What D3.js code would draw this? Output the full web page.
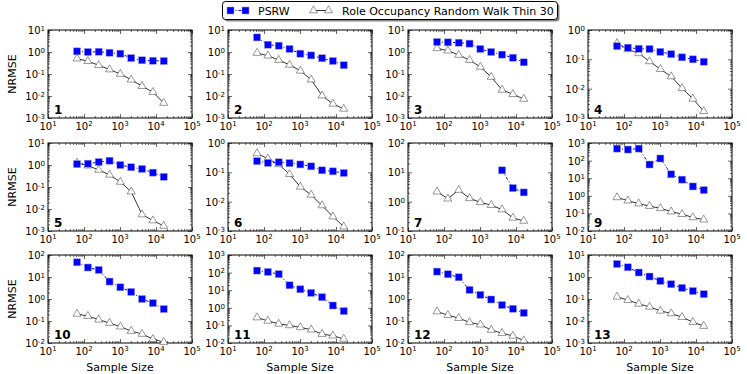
<!DOCTYPE html>
<html>
<head>
<meta charset="utf-8">
<script src="https://cdn.jsdelivr.net/npm/d3@7"></script>
<style>
  body { margin: 0; background: #fff; }
  svg { font-family: "DejaVu Sans", sans-serif; }
</style>
</head>
<body>
<svg width="747" height="374"></svg>
<script>
// values
let sampleSizes = [64, 128, 256, 512, 1024, 2048, 4096, 8192, 16384];
let panelLabels = ["1", "2", "3", "4", "5", "6", "7", "9", "10", "11", "12", "13"];
// y range of each panel as [min exponent, max exponent]
let yDecades = [[-3, 1], [-3, 1], [-3, 1], [-3, 0], [-3, 1], [-3, 0], [-1, 2], [-2, 3], [-2, 2], [-2, 3], [-2, 2], [-3, 1]];

let psrw = [
    [1.07, 1.0, 1.03, 0.93, 0.84, 0.53, 0.42, 0.40, 0.39],
    [4.6, 2.15, 1.94, 1.37, 0.84, 0.70, 0.52, 0.39, 0.25],
    [2.85, 2.75, 2.65, 2.4, 1.37, 1.0, 0.76, 0.55, 0.34],
    [0.28, 0.25, 0.23, 0.225, 0.18, 0.15, 0.117, 0.10, 0.083],
    [1.1, 1.15, 1.36, 1.57, 1.0, 0.79, 0.66, 0.45, 0.29],
    [0.24, 0.21, 0.22, 0.206, 0.186, 0.16, 0.117, 0.108, 0.095],
    [null, null, null, null, null, null, 11.7, 2.9, 2.07],
    [480, 424, 480, 60, 132, 16.6, 8.3, 3.4, 2.1],
    [46.5, 27, 21, 6.2, 3.4, 2.1, 1.0, 0.65, 0.35],
    [130, 109, 82, 19, 11.3, 7.0, 4.0, 1.35, 0.65],
    [17.6, 13.3, 9.7, 2.6, 1.55, 0.95, 0.53, 0.36, 0.235],
    [3.9, 2.76, 1.6, 1.05, 0.66, 0.47, 0.32, 0.23, 0.166]
];

let roleOcc = [
    [0.50, 0.38, 0.25, 0.16, 0.10, 0.055, 0.028, 0.015, 0.0048],
    [0.90, 0.68, 0.43, 0.26, 0.14, 0.055, 0.0104, 0.0044, 0.0026],
    [1.47, 1.15, 0.73, 0.43, 0.21, 0.073, 0.019, 0.012, 0.0073],
    [0.35, 0.22, 0.16, 0.085, 0.046, 0.026, 0.0103, 0.0045, 0.0017],
    [1.27, 0.93, 0.6, 0.355, 0.17, 0.061, 0.0056, 0.003, 0.0017],
    [0.44, 0.29, 0.186, 0.086, 0.032, 0.017, 0.0074, 0.0031, 0.0014],
    [2.2, 1.26, 2.5, 1.3, 0.95, 0.76, 0.54, 0.28, 0.22],
    [0.81, 0.53, 0.36, 0.26, 0.195, 0.127, 0.09, 0.059, 0.044],
    [0.21, 0.167, 0.114, 0.081, 0.055, 0.035, 0.0257, 0.015, 0.011],
    [0.28, 0.18, 0.123, 0.10, 0.077, 0.057, 0.032, 0.026, 0.017],
    [0.27, 0.185, 0.135, 0.087, 0.068, 0.039, 0.028, 0.021, 0.013],
    [0.126, 0.089, 0.06, 0.044, 0.029, 0.022, 0.015, 0.0089, 0.0059]
];

let xDecades = [1, 5];

let svg = d3.select("svg");

let colLeft = [48, 228, 408, 588],
    rowTop = [30, 143, 255],
    pw = 144,
    ph = 88;

let blue = "#0000ff";

// "10" with a superscript exponent
function powLabel(sel, e) {
    sel.text("10");
    sel.append("tspan")
        .attr("dy", "-0.45em")
        .style("font-size", "7px")
        .text(e);
}

function minorValues(lo, hi) {
    let out = [];
    for (let e = lo; e < hi; e++) {
        for (let m = 2; m <= 9; m++) out.push(m * Math.pow(10, e));
    }
    return out;
}

function majorValues(lo, hi) {
    return d3.range(lo, hi + 1).map(e => Math.pow(10, e));
}

panelLabels.forEach((label, i) => {
    let col = i % 4, row = Math.floor(i / 4);
    let g = svg.append("g")
        .attr("transform", "translate(" + colLeft[col] + "," + rowTop[row] + ")");

    let x = d3.scaleLog()
        .domain([Math.pow(10, xDecades[0]), Math.pow(10, xDecades[1])])
        .range([0, pw]);
    let y = d3.scaleLog()
        .domain([Math.pow(10, yDecades[i][0]), Math.pow(10, yDecades[i][1])])
        .range([ph, 0]);

    // ticks on all four sides, pointing inwards
    let xMaj = majorValues(xDecades[0], xDecades[1]),
        xMin = minorValues(xDecades[0], xDecades[1]),
        yMaj = majorValues(yDecades[i][0], yDecades[i][1]),
        yMin = minorValues(yDecades[i][0], yDecades[i][1]);

    let axes = [
        [d3.axisBottom(x).tickValues(xMaj).tickSize(-4), "translate(0," + ph + ")"],
        [d3.axisBottom(x).tickValues(xMin).tickSize(-2), "translate(0," + ph + ")"],
        [d3.axisTop(x).tickValues(xMaj).tickSize(-4), null],
        [d3.axisTop(x).tickValues(xMin).tickSize(-2), null],
        [d3.axisLeft(y).tickValues(yMaj).tickSize(-4), null],
        [d3.axisLeft(y).tickValues(yMin).tickSize(-2), null],
        [d3.axisRight(y).tickValues(yMaj).tickSize(-4), "translate(" + pw + ",0)"],
        [d3.axisRight(y).tickValues(yMin).tickSize(-2), "translate(" + pw + ",0)"]
    ];

    axes.forEach(a => {
        let ax = g.append("g").call(a[0].tickFormat(""));
        if (a[1]) ax.attr("transform", a[1]);
        ax.select(".domain").remove();
        ax.selectAll(".tick line").attr("stroke", "#000").attr("stroke-width", 0.6);
        ax.selectAll("text").remove();
    });

    // tick labels
    g.selectAll(".xlab")
        .data(d3.range(xDecades[0], xDecades[1] + 1))
        .enter().append("text")
        .attr("x", d => x(Math.pow(10, d)))
        .attr("y", ph + 11.5)
        .attr("text-anchor", "middle")
        .style("font-size", "10px")
        .each(function (d) { powLabel(d3.select(this), d); });

    g.selectAll(".ylab")
        .data(d3.range(yDecades[i][0], yDecades[i][1] + 1))
        .enter().append("text")
        .attr("x", -3)
        .attr("y", d => y(Math.pow(10, d)) + 4)
        .attr("text-anchor", "end")
        .style("font-size", "10px")
        .each(function (d) { powLabel(d3.select(this), d); });

    // frame
    g.append("rect")
        .attr("width", pw)
        .attr("height", ph)
        .attr("fill", "none")
        .attr("stroke", "#000")
        .attr("stroke-width", 1);

    let plot = g.append("g");

    // role occupancy line + triangles
    let roleRows = sampleSizes.map((s, k) => ({ s: s, v: roleOcc[i][k] }));
    plot.append("path")
        .datum(roleRows)
        .attr("fill", "none")
        .attr("stroke", "#000")
        .attr("stroke-width", 0.8)
        .attr("d", d3.line().x(d => x(d.s)).y(d => y(d.v)));

    plot.selectAll(".tri")
        .data(roleRows)
        .enter().append("path")
        .attr("transform", d => "translate(" + x(d.s) + "," + y(d.v) + ")")
        .attr("d", d3.symbol(d3.symbolTriangle, 28))
        .attr("fill", "#fff")
        .attr("stroke", "#333")
        .attr("stroke-width", 0.5);

    // PSRW dash-dot line + squares
    let psrwRows = sampleSizes.map((s, k) => ({ s: s, v: psrw[i][k] })).filter(d => d.v != null);
    plot.append("path")
        .datum(psrwRows)
        .attr("fill", "none")
        .attr("stroke", blue)
        .attr("stroke-width", 1)
        .attr("stroke-dasharray", "3,2,1,2")
        .attr("d", d3.line().x(d => x(d.s)).y(d => y(d.v)));

    plot.selectAll(".sq")
        .data(psrwRows)
        .enter().append("rect")
        .attr("x", d => x(d.s) - 3.5)
        .attr("y", d => y(d.v) - 3.5)
        .attr("width", 7)
        .attr("height", 7)
        .attr("fill", blue)
        .attr("stroke", "#9a9ad8")
        .attr("stroke-width", 0.5);

    // panel number
    g.append("text")
        .attr("x", 6)
        .attr("y", ph - 4)
        .style("font-size", "12px")
        .style("font-weight", "bold")
        .text(label);

    if (col === 0) {
        g.append("text")
            .attr("transform", "translate(-32," + (ph / 2) + ") rotate(-90)")
            .attr("text-anchor", "middle")
            .style("font-size", "11px")
            .text("NRMSE");
    }
    if (row === 2) {
        g.append("text")
            .attr("x", pw / 2)
            .attr("y", ph + 28)
            .attr("text-anchor", "middle")
            .style("font-size", "11px")
            .text("Sample Size");
    }
});

// legend
let lg = svg.append("g").attr("transform", "translate(222.5,1.5)");
lg.append("rect")
    .attr("x", 2).attr("y", 2)
    .attr("width", 335).attr("height", 18)
    .attr("rx", 3)
    .attr("fill", "#888");
lg.append("rect")
    .attr("width", 335).attr("height", 18)
    .attr("rx", 3)
    .attr("fill", "#fff")
    .attr("stroke", "#000")
    .attr("stroke-width", 1);

lg.append("line")
    .attr("x1", 8).attr("x2", 23).attr("y1", 9).attr("y2", 9)
    .attr("stroke", blue).attr("stroke-dasharray", "3,2,1,2");
[8, 23].forEach(cx => {
    lg.append("rect")
        .attr("x", cx - 3.5).attr("y", 5.5)
        .attr("width", 7).attr("height", 7)
        .attr("fill", blue).attr("stroke", "#9a9ad8").attr("stroke-width", 0.5);
});
lg.append("text").attr("x", 35.5).attr("y", 13).style("font-size", "11px").text("PSRW");

lg.append("line")
    .attr("x1", 91).attr("x2", 106).attr("y1", 9).attr("y2", 9)
    .attr("stroke", "#000").attr("stroke-width", 0.8);
[91, 106].forEach(cx => {
    lg.append("path")
        .attr("transform", "translate(" + cx + ",9)")
        .attr("d", d3.symbol(d3.symbolTriangle, 28))
        .attr("fill", "#fff").attr("stroke", "#333").attr("stroke-width", 0.5);
});
lg.append("text").attr("x", 119.5).attr("y", 13).style("font-size", "11px")
    .text("Role Occupancy Random Walk Thin 30");
</script>
</body>
</html>
